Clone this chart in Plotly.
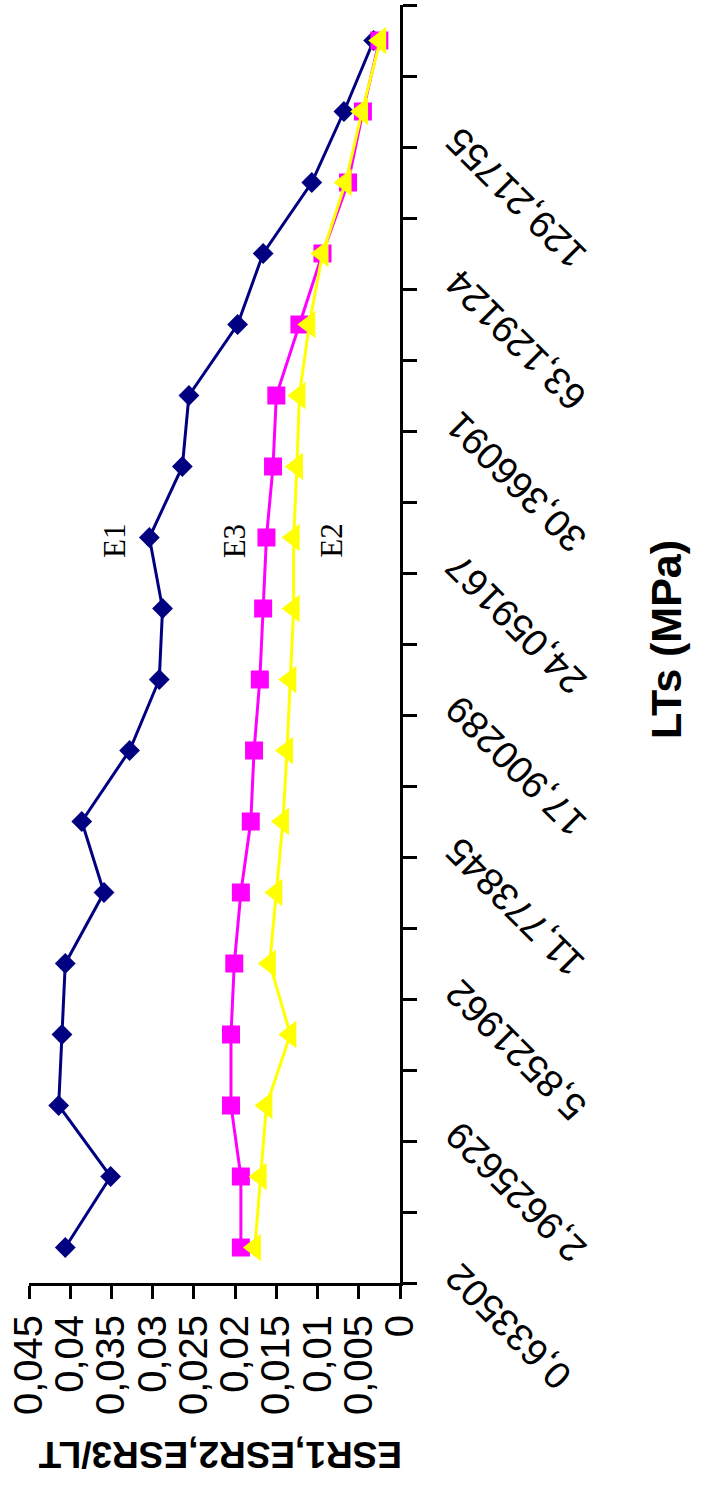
import plotly.graph_objects as go

# ---- data ----
category_index = list(range(1, 19))
tick_label_positions = [1, 3, 5, 7, 9, 11, 13, 15, 17]
tick_labels = ["0,633502", "2,9625629", "5,8521962", "11,773845", "17,900289",
               "24,059167", "30,366091", "63,129124", "129,21755"]

e1 = [0.0406, 0.0351, 0.0414, 0.0410, 0.0406, 0.0359, 0.0386, 0.0328, 0.0292,
      0.0288, 0.0304, 0.0264, 0.0256, 0.0197, 0.0166, 0.0107, 0.0068, 0.0032]
e3 = [0.0193, 0.0193, 0.0205, 0.0205, 0.0201, 0.0193, 0.0181, 0.0177, 0.0170,
      0.0166, 0.0162, 0.0154, 0.0150, 0.0122, 0.0094, 0.0063, 0.0045, 0.0025]
e2 = [0.0176, 0.0169, 0.0162, 0.0133, 0.0158, 0.0150, 0.0142, 0.0137, 0.0133,
      0.0129, 0.0129, 0.0125, 0.0122, 0.0110, 0.0094, 0.0066, 0.0046, 0.0024]

value_ticks = [0, 0.005, 0.01, 0.015, 0.02, 0.025, 0.03, 0.035, 0.04, 0.045]
value_tick_text = ["0", "0,005", "0,01", "0,015", "0,02", "0,025", "0,03", "0,035", "0,04", "0,045"]
boundaries = [i + 0.5 for i in range(0, 19)]

W, H = 715, 1501
L, R, T, B = 29, 400, 5, 1283          # plot box in pixels
unit = (B - T) / 18.0                   # pixels per category
y_dom0 = (H - B) / (H - T)              # main y-axis domain bottom
y2_bottom = 0.5 - (H - B) / unit        # label axis range bottom (same scale)

fig = go.Figure()
fig.add_trace(go.Scatter(x=e1, y=category_index, mode="lines+markers", name="E1",
                         line=dict(color="#000080", width=3),
                         marker=dict(symbol="diamond", size=16, color="#000080")))
fig.add_trace(go.Scatter(x=e3, y=category_index, mode="lines+markers", name="E3",
                         line=dict(color="#FF00FF", width=3),
                         marker=dict(symbol="square", size=18, color="#FF00FF")))
fig.add_trace(go.Scatter(x=e2, y=category_index, mode="lines+markers", name="E2",
                         line=dict(color="#FFFF00", width=3),
                         marker=dict(symbol="triangle-left", size=24, color="#FFFF00")))
# invisible trace to activate the label axis
fig.add_trace(go.Scatter(x=[None], y=[None], yaxis="y2", showlegend=False, hoverinfo="skip"))

font = "Liberation Sans, Arial, sans-serif"

fig.update_layout(
    width=W, height=H,
    margin=dict(l=L, r=W - R, t=T, b=0, pad=0),
    paper_bgcolor="white", plot_bgcolor="rgba(0,0,0,0)",
    showlegend=False,
    xaxis=dict(range=[0.045, 0], tickvals=value_ticks, ticktext=value_tick_text,
               tickangle=-90, ticks="outside", ticklen=13, tickwidth=3, tickcolor="black",
               showline=True, linewidth=3, linecolor="black", showgrid=False, zeroline=False,
               tickfont=dict(family=font, size=40, color="black")),
    yaxis=dict(range=[0.5, 18.5], domain=[y_dom0, 1], side="right", tickvals=boundaries,
               showticklabels=False,
               ticks="outside", ticklen=14, tickwidth=3, tickcolor="black",
               showline=True, linewidth=3, linecolor="black", showgrid=False, zeroline=False),
    yaxis2=dict(range=[y2_bottom, 18.5], domain=[0, 1], side="right", anchor="x",
                tickvals=tick_label_positions, ticktext=tick_labels,
                tickangle=-135, ticklabelposition="inside", ticklabelstandoff=-70,
                ticklabelshift=33, ticks="", showline=False, showgrid=False, zeroline=False,
                tickfont=dict(family=font, size=38, color="black")),
)

def px_x(p):
    return (p - L) / (R - L)

def px_y(p):
    return (H - p) / (H - T)

fig.add_annotation(text="<b>ESR1,ESR2,ESR3/LT</b>", xref="paper", yref="paper",
                   x=px_x(220), y=px_y(1477), textangle=180, showarrow=False,
                   font=dict(family=font, size=37, color="black"))
fig.add_annotation(text="<b>LTs (MPa)</b>", xref="paper", yref="paper",
                   x=px_x(692), y=px_y(640), textangle=-90, showarrow=False,
                   font=dict(family=font, size=43, color="black"))

serif = "Liberation Serif, Times New Roman, serif"
series_labels = ["E1", "E3", "E2"]
label_x = [0.0347, 0.0201, 0.0084]
label_y = [10.95, 10.95, 10.95]
for t, xv, yv in zip(series_labels, label_x, label_y):
    fig.add_annotation(text=t, x=xv, y=yv, xref="x", yref="y", textangle=-90,
                       showarrow=False, font=dict(family=serif, size=31, color="black"))

fig.write_html("out.html")
